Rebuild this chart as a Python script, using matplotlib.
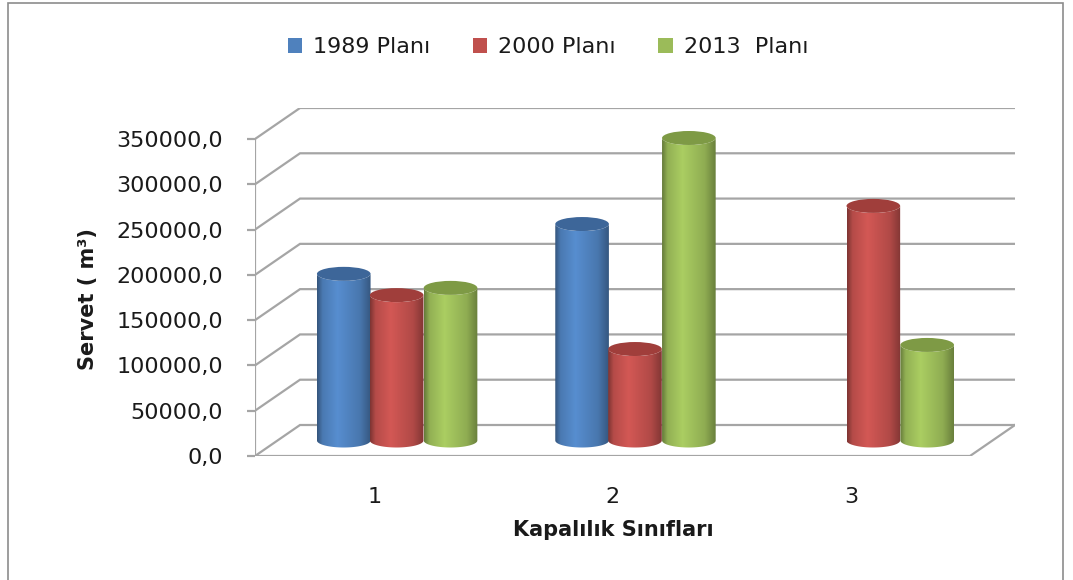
import numpy as np
import matplotlib
matplotlib.use("Agg")
import matplotlib.pyplot as plt
from matplotlib.patches import Ellipse, Patch, Rectangle, PathPatch
from matplotlib.path import Path

# data
categories = ["1", "2", "3"]
series = ["1989 Planı", "2000 Planı", "2013  Planı"]
plan_1989 = [184000, 239000, np.nan]
plan_2000 = [160500, 101000, 259000]
plan_2013 = [168500, 334000, 105500]
yticks = list(range(0, 350001, 50000))

colors = ["#4F81BD", "#C0504D", "#9BBB59"]
tops = ["#3D6699", "#A03E3B", "#7E9A45"]
grid_c = "#A5A5A5"

W, H = 1073, 580
fig = plt.figure(figsize=(W / 100, H / 100), dpi=100)
fig.patch.set_facecolor("white")
plt.rcParams["font.family"] = ["DejaVu Sans"]

# axes box in pixels: front-left axis x=255, floor y=456, back top y=108
ax = fig.add_axes([255 / W, (H - 456) / H, 760 / W, 348 / H])
ax.patch.set_alpha(0)
ymax = 350000
dx = 45 / 238.3                  # depth offset, category units
dy = 31 * ymax / 317             # depth offset, value units
x0, x1 = 0.5, 3.5
ax.set_xlim(x0, x1 + dx)
ax.set_ylim(0, ymax + dy)
for s in ax.spines.values():
    s.set_visible(False)

# back wall gridlines with their diagonal on the side wall
for v in yticks:
    ax.plot([x0, x0 + dx, x1 + dx], [v, v + dy, v + dy], color=grid_c, lw=1.6,
            solid_joinstyle="miter", zorder=1)
# front axis + floor
ax.plot([x0, x0], [0, ymax], color=grid_c, lw=1.6, zorder=1)
ax.plot([x0, x1, x1 + dx], [0, 0, dy], color=grid_c, lw=1.6, zorder=1)

ax.set_yticks(yticks)
ax.set_yticklabels([f"{v},0" for v in yticks])
ax.tick_params(axis="y", length=6, width=1.6, color=grid_c, pad=17, labelsize=16,
               labelcolor="#1a1a1a")
ax.set_xticks(range(1, len(categories) + 1))
ax.set_xticklabels(categories)
ax.tick_params(axis="x", length=0, pad=22, labelsize=16, labelcolor="#1a1a1a")

# shading profile across a cylinder (left -> right)
prof_t = [0.0, 0.1, 0.38, 0.8, 1.0]
prof_f = [0.66, 0.94, 1.10, 0.92, 0.68]
tt = np.linspace(0, 1, 80)
fac = np.interp(tt, prof_t, prof_f)

bw = 0.225
offs = [-0.222, 0.0, 0.226]
eh = 14 * ymax / 317
theta = np.linspace(np.pi, 2 * np.pi, 40)

for si, vals in enumerate([plan_1989, plan_2000, plan_2013]):
    base = np.array(matplotlib.colors.to_rgb(colors[si]))
    grad = np.clip(fac[:, None] * base[None, :], 0, 1)[None, :, :]
    for ci, v in enumerate(vals):
        if np.isnan(v):
            continue
        cx = ci + 1 + offs[si] + dx / 2
        yb = dy / 2
        yt = v + dy / 2
        l, r = cx - bw / 2, cx + bw / 2
        # body outline: bottom half ellipse, right side up, top back, left down
        bx = cx + bw / 2 * np.cos(theta)
        by = yb + eh / 2 * np.sin(theta)
        tx = cx + bw / 2 * np.cos(theta[::-1])
        ty = yt + eh / 2 * np.sin(theta[::-1])
        px = np.concatenate([bx, tx, [bx[0]]])
        py = np.concatenate([by, ty, [by[0]]])
        body = PathPatch(Path(np.column_stack([px, py])), fc="none", ec="none",
                         transform=ax.transData)
        ax.add_patch(body)
        im = ax.imshow(grad, extent=[l, r, yb - eh, yt + eh], aspect="auto",
                       origin="lower", zorder=2 + si * 0.1 + ci * 0.01,
                       interpolation="bilinear")
        im.set_clip_path(body)
        ax.add_patch(Ellipse((cx, yt), bw, eh, fc=tops[si], ec="none",
                             zorder=2.05 + si * 0.1 + ci * 0.01))

ax.set_xlim(x0, x1 + dx)
ax.set_ylim(0, ymax + dy)

# axis titles
fig.text(88 / W, 1 - 299 / H, "Servet ( m³)", rotation=90, ha="center", va="center",
         fontsize=15, fontweight="bold", color="#1a1a1a")
fig.text(613 / W, 1 - 530 / H, "Kapalılık Sınıfları", ha="center", va="center",
         fontsize=15, fontweight="bold", color="#1a1a1a")

# legend
handles = [Patch(fc=c, ec="none") for c in colors]
fig.legend(handles, series, loc="center", bbox_to_anchor=(548 / W, 1 - 47 / H),
           ncol=3, frameon=False, fontsize=16, handlelength=0.65, handleheight=0.65,
           handletextpad=0.5, columnspacing=1.9, labelcolor="#1a1a1a")

# chart border
fig.add_artist(Rectangle((8 / W, -0.05), (1063 - 8) / W, 1.05 - 3 / H,
                         transform=fig.transFigure, fill=False, ec="#8C8C8C", lw=1.2))

fig.savefig("out.png", dpi=100, facecolor="white")
